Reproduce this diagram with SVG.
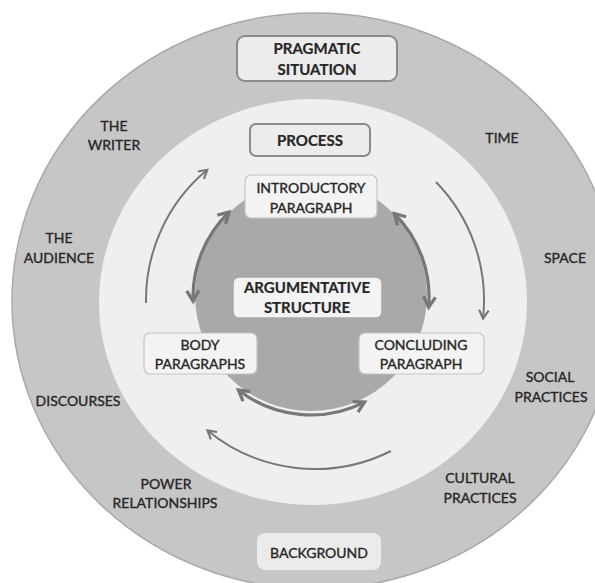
<svg xmlns="http://www.w3.org/2000/svg" width="595" height="583" viewBox="0 0 595 583">
<defs>
<style>
.t{font-family:Lato,"Open Sans","Liberation Sans",sans-serif;font-size:14px;fill:#262626;stroke:#262626;stroke-width:0.35;text-anchor:middle;dominant-baseline:central}
.b{font-weight:bold;font-size:15px;stroke-width:0.2}
.hbox{fill:#ececec;stroke:#8a8a8a;stroke-width:2}
.ibox{fill:#f3f3f3;stroke:#c4c4c4;stroke-width:1.2}
.abox{fill:#f3f3f3;stroke:#a8a8a8;stroke-width:1.5}
.outer{fill:none;stroke:#777;stroke-width:2}
.inner{fill:none;stroke:#777;stroke-width:3.2}
</style>
<marker id="ho" viewBox="0 0 10 10" refX="8" refY="5" markerWidth="12" markerHeight="12" markerUnits="userSpaceOnUse" orient="auto-start-reverse" overflow="visible">
<path d="M1,1 L8,5 L1,9" fill="none" stroke="#777" stroke-width="1.8"/>
</marker>
<marker id="hi" viewBox="0 0 10 10" refX="8" refY="5" markerWidth="15" markerHeight="15" markerUnits="userSpaceOnUse" orient="auto-start-reverse" overflow="visible">
<path d="M1,1 L8,5 L1,9" fill="none" stroke="#777" stroke-width="2.2"/>
</marker>
</defs>
<rect width="595" height="583" fill="#ffffff"/>
<g id="rings">
<ellipse cx="315" cy="301" rx="303" ry="288" fill="#c6c6c6" stroke="#a9a9a9" stroke-width="1.5"/>
<ellipse cx="313" cy="302" rx="214" ry="203" fill="#efefef"/>
<circle cx="311" cy="295" r="116" fill="#a9a9a9"/>
</g>
<g id="connectors">
<path class="outer" d="M146,302.9 A169,169 0 0 1 207.3,169.8" marker-end="url(#ho)"/>
<path class="outer" d="M436,182 A169,169 0 0 1 483,318.5" marker-end="url(#ho)"/>
<path class="outer" d="M390.9,451 A169,169 0 0 1 207.5,430.4" marker-end="url(#ho)"/>
<path class="inner" d="M229,212.1 A118,118 0 0 0 193.1,301.1" marker-start="url(#hi)" marker-end="url(#hi)"/>
<path class="inner" d="M394.4,213.6 A118,118 0 0 1 428.6,307.3" marker-start="url(#hi)" marker-end="url(#hi)"/>
<path class="inner" d="M238.4,390 A118,118 0 0 0 364.6,402.1" marker-start="url(#hi)" marker-end="url(#hi)"/>
</g>
<g id="pragmatic">
<rect class="hbox" x="237" y="36" width="160" height="45" rx="8"/>
<text class="t b" x="317" y="48">PRAGMATIC</text>
<text class="t b" x="317" y="69">SITUATION</text>
</g>
<g id="process">
<rect class="hbox" x="250" y="124" width="120" height="32" rx="6"/>
<text class="t b" x="310" y="140">PROCESS</text>
</g>
<g id="introductory">
<rect class="ibox" x="245" y="175" width="132" height="43" rx="6"/>
<text class="t" x="311" y="187">INTRODUCTORY</text>
<text class="t" x="311" y="207">PARAGRAPH</text>
</g>
<g id="argumentative">
<rect class="abox" x="233" y="277" width="149" height="41" rx="6"/>
<text class="t b" x="307" y="287">ARGUMENTATIVE</text>
<text class="t b" x="307" y="307">STRUCTURE</text>
</g>
<g id="body">
<rect class="ibox" x="144" y="333" width="113" height="41" rx="6"/>
<text class="t" x="200" y="344">BODY</text>
<text class="t" x="200" y="363">PARAGRAPHS</text>
</g>
<g id="concluding">
<rect class="ibox" x="359" y="333" width="125" height="41" rx="6"/>
<text class="t" x="421" y="344">CONCLUDING</text>
<text class="t" x="421" y="363">PARAGRAPH</text>
</g>
<g id="background">
<rect x="257" y="533" width="124" height="37" rx="8" fill="#ebebeb"/>
<text class="t" x="319" y="552">BACKGROUND</text>
</g>
<g id="labels">
<text class="t" x="114" y="125">THE</text>
<text class="t" x="114" y="144">WRITER</text>
<text class="t" x="502" y="137">TIME</text>
<text class="t" x="59" y="237">THE</text>
<text class="t" x="59" y="257">AUDIENCE</text>
<text class="t" x="565" y="257">SPACE</text>
<text class="t" x="78" y="400">DISCOURSES</text>
<text class="t" x="550" y="376">SOCIAL</text>
<text class="t" x="551" y="396">PRACTICES</text>
<text class="t" x="166" y="483">POWER</text>
<text class="t" x="165" y="502">RELATIONSHIPS</text>
<text class="t" x="480" y="477">CULTURAL</text>
<text class="t" x="480" y="497">PRACTICES</text>
</g>
</svg>
